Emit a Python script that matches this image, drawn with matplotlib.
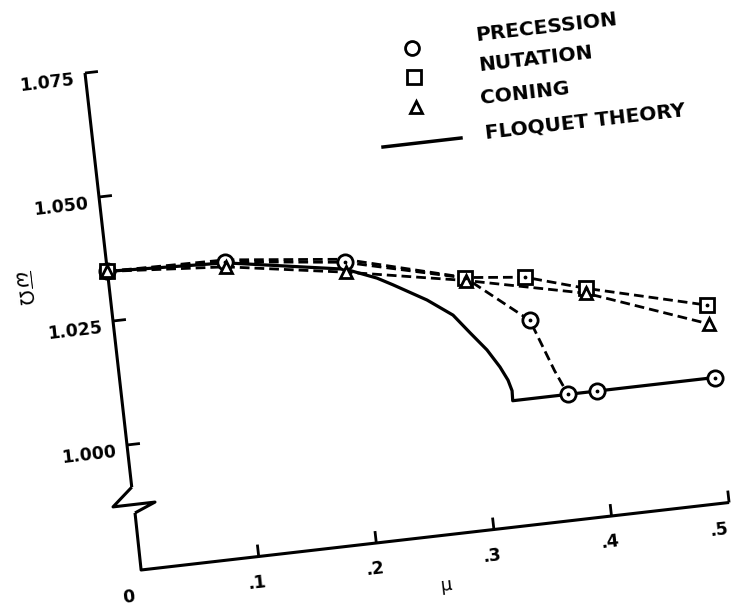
import numpy as np
import matplotlib.pyplot as plt
from matplotlib.transforms import Affine2D

# advance ratio (mu) and frequency ratio (omega / Omega) readings
mu_prec = [0.0, 0.1, 0.2, 0.35, 0.375, 0.4, 0.5]
w_prec = [1.035, 1.0342, 1.0314, 1.0156, 1.000, 1.000, 1.000]
# dashed fairing through the precession points
mu_prec_fair = [0.0, 0.1, 0.2, 0.3, 0.35, 0.366, 0.375]
w_prec_fair = [1.035, 1.0342, 1.0314, 1.0255, 1.0156, 1.0050, 1.000]

mu_nut = [0.0, 0.1, 0.2, 0.3, 0.35, 0.4, 0.5]
w_nut = [1.035, 1.0346, 1.0320, 1.0256, 1.0243, 1.0207, 1.0146]
nut_marked = [0, 3, 4, 5, 6]

mu_con = [0.0, 0.1, 0.2, 0.3, 0.4, 0.5]
w_con = [1.035, 1.0332, 1.0294, 1.0250, 1.0197, 1.0108]

mu_floq = [0.0, 0.1, 0.2, 0.2257, 0.2385, 0.2656, 0.286, 0.2986, 0.3112, 0.3205,
           0.326, 0.3284, 0.328, 0.5]
w_floq = [1.035, 1.034, 1.030, 1.0275, 1.0258, 1.022, 1.0184, 1.0145, 1.0107, 1.007,
          1.0042, 1.002, 1.000, 1.000]

y_ticks = [1.000, 1.025, 1.050, 1.075]
y_tick_labels = ["1.000", "1.025", "1.050", "1.075"]
x_ticks = [0.1, 0.2, 0.3, 0.4, 0.5]
x_tick_labels = [".1", ".2", ".3", ".4", ".5"]

legend_names = ["PRECESSION", "NUTATION", "CONING", "FLOQUET THEORY"]

W_AXIS = 0.9748          # where the broken y axis meets the mu axis
BOLD = dict(family="DejaVu Sans", fontweight="bold")

fig = plt.figure(figsize=(7.34, 6.06), dpi=100)
ax = fig.add_axes([0, 0, 1, 1])
ax.set_xlim(0, 734)
ax.set_ylim(606, 0)
ax.axis("off")

# the plotted sheet sits slightly rotated on the page: (mu, w) -> page pixels
chart = Affine2D(np.array([[1176.0, -560.0, 687.0],
                           [-135.0, -4960.0, 5405.0],
                           [0.0, 0.0, 1.0]])) + ax.transData
tilt = np.degrees(np.arctan2(135, 1176))

ink = dict(color="black", solid_capstyle="butt", transform=chart)

# axes with the break in the ordinate
ax.plot([0, 0], [1.075, 0.9915], lw=2.2, **ink)
ax.plot([0, -0.0176, 0.0181, 0.0003], [0.9915, 0.9880, 0.9880, 0.9863], lw=2.2, **ink)
ax.plot([0.0003, 0, 0.5], [0.9863, W_AXIS, W_AXIS], lw=2.2, **ink)
for w in y_ticks:
    ax.plot([0, 0.011], [w, w], lw=2.0, **ink)
for m in x_ticks:
    ax.plot([m, m], [W_AXIS, W_AXIS + 0.0024], lw=2.0, **ink)

for w, lab in zip(y_ticks, y_tick_labels):
    ax.text(-0.033, w - 0.001, lab, transform=chart, rotation=tilt, rotation_mode="anchor",
            ha="center", va="center", fontsize=12.5, **BOLD)
for m, lab in zip(x_ticks, x_tick_labels):
    # the last label sits tucked under the end of the axis
    ax.text(min(m - 0.004, 0.489), W_AXIS - 0.0052, lab, transform=chart, rotation=tilt,
            rotation_mode="anchor", ha="center", va="center", fontsize=12.5, **BOLD)
ax.text(-0.013, W_AXIS - 0.0052, "0", transform=chart, rotation=tilt, rotation_mode="anchor",
        ha="center", va="center", fontsize=12.5, **BOLD)
ax.text(0.255, W_AXIS - 0.0100, "\u03bc", transform=chart, rotation=tilt, rotation_mode="anchor",
        ha="center", va="center", fontsize=13, family="DejaVu Sans")
ax.text(-0.0724, 1.0336, r"$\overline{\omega}\,\Omega$", transform=chart,
        rotation=-90 + tilt, rotation_mode="anchor", ha="center", va="center", fontsize=14)

# data curves
dash = (3.5, 1.8)
ax.plot(mu_floq, w_floq, lw=2.3, zorder=2, **ink)
ax.plot(mu_prec_fair, w_prec_fair, lw=2.0, dashes=dash, zorder=2, **ink)
ax.plot(mu_nut, w_nut, lw=2.0, dashes=dash, zorder=2, **ink)
ax.plot(mu_con, w_con, lw=2.0, dashes=dash, zorder=2, **ink)

mk = dict(ls="none", mfc="white", mec="black", mew=2.0)
ax.plot(mu_prec, w_prec, marker="o", ms=11, zorder=3, transform=chart, **mk)
ax.plot(np.array(mu_nut)[nut_marked], np.array(w_nut)[nut_marked], marker="s", ms=10.5,
        zorder=4, transform=chart, **mk)
ax.plot(mu_con, w_con, marker="^", ms=9, zorder=5, transform=chart, **mk)
ax.plot(mu_prec[1:], w_prec[1:], ls="none", marker=".", ms=3.5, color="black",
        transform=chart, zorder=6)
ax.plot(np.array(mu_nut)[nut_marked[1:]], np.array(w_nut)[nut_marked[1:]], ls="none",
        marker=".", ms=3.5, color="black", transform=chart, zorder=6)

# legend keys and names, written along the tilted sheet
ax.plot([412], [48], marker="o", ms=10, **mk)
ax.plot([414], [77], marker="s", ms=10, **mk)
ax.plot([416], [107], marker="^", ms=9, **mk)
ax.plot([383, 461], [147, 138], color="black", lw=2.5)
for (x, y), name in zip([(475, 36), (478, 66), (480, 99), (485, 133)], legend_names):
    ax.text(x, y, name, rotation=tilt, rotation_mode="anchor", ha="left", va="center",
            fontsize=14.5, **BOLD)

fig.savefig("out.png", dpi=100)
